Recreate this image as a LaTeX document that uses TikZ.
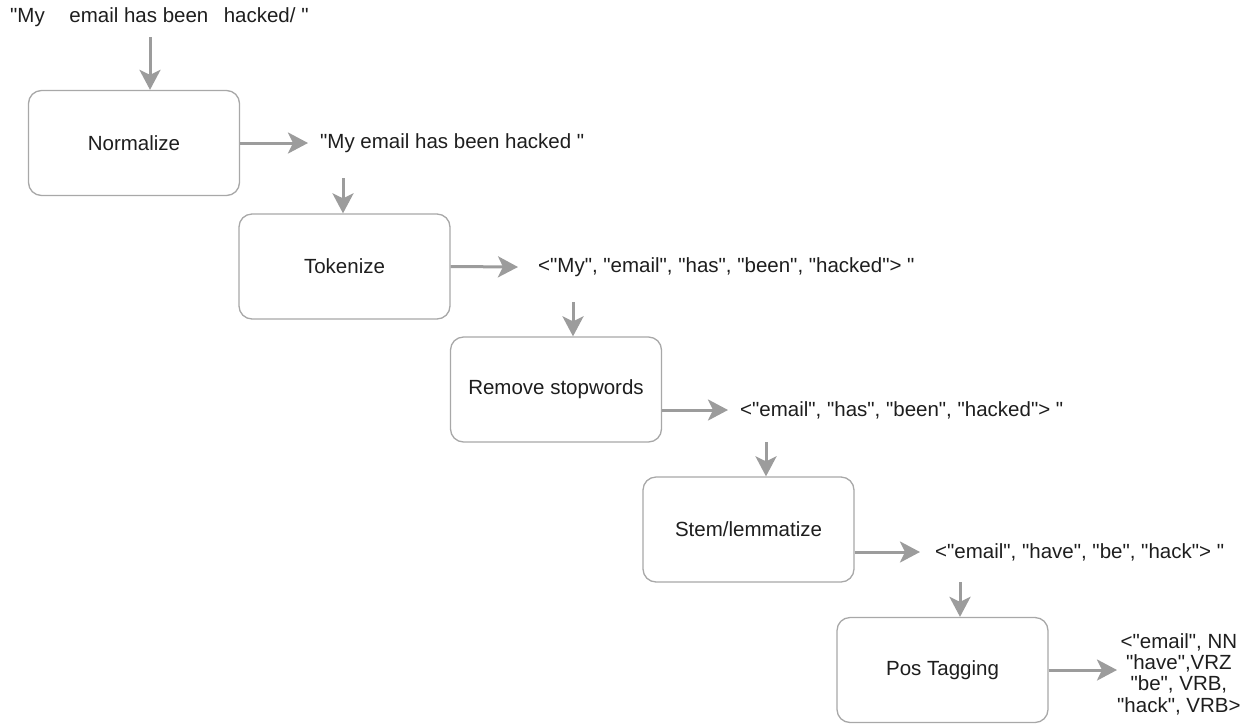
\documentclass[tikz,border=0pt]{standalone}
\usepackage{fontspec}
\setmainfont{Liberation Sans}
% a family without TeX ligature mapping, so " stays a straight quote
\newfontfamily\plainsans{Liberation Sans}
\usetikzlibrary{arrows.meta}
\definecolor{boxgray}{HTML}{A8A8A8}
\definecolor{arrgray}{HTML}{9C9C9C}
\definecolor{txt}{HTML}{1E1E1E}
\def\dqt{\char34\relax}
\begin{document}
\begin{tikzpicture}[x=1pt,y=-1pt,
  stage/.style={draw=boxgray, line width=1.3pt, rounded corners=13pt, fill=white,
    minimum width=211pt, minimum height=105pt, inner sep=0pt,
    font=\plainsans\fontsize{20.5}{24}\selectfont, text=txt},
  lbl/.style={inner sep=0pt, anchor=west, font=\plainsans\fontsize{20.5}{24}\selectfont, text=txt},
  flow/.style={draw=arrgray, line width=3pt,
    -{Stealth[length=20pt,width=21pt,inset=5pt]}}]
\useasboundingbox (0,0) rectangle (1247,724);

% pipeline stages
\node[stage] (n1) at (134,143)   {Normalize};
\node[stage] (n2) at (344.5,266.5) {Tokenize};
\node[stage] (n3) at (556,389.5) {Remove stopwords};
\node[stage] (n4) at (748.5,529.5) {Stem/lemmatize};
\node[stage] (n5) at (942.5,670) {Pos Tagging};

% intermediate results
\node[lbl] (t0) at (10,17) {\dqt My\hspace{1.2em}email has been\hspace{0.75em}hacked/ \dqt};
\node[lbl] (t1) at (320,143) {\dqt My email has been hacked \dqt};
\node[lbl] (t2) at (538,267) {<\dqt My\dqt, \dqt email\dqt, \dqt has\dqt, \dqt been\dqt, \dqt hacked\dqt> \dqt};
\node[lbl] (t3) at (740,410) {<\dqt email\dqt, \dqt has\dqt, \dqt been\dqt, \dqt hacked\dqt> \dqt};
\node[lbl] (t4) at (935,552) {<\dqt email\dqt, \dqt have\dqt, \dqt be\dqt, \dqt hack\dqt> \dqt};
\node[lbl, align=center, font=\plainsans\fontsize{20.5}{21.3}\selectfont] (t5) at (1117,674)
  {<\dqt email\dqt, NN\\\dqt have\dqt,VRZ\\\dqt be\dqt, VRB,\\\dqt hack\dqt, VRB>};

% start points of the downward arrows
\coordinate (s0) at (150,37);
\coordinate (s1) at (343,178);
\coordinate (s2) at (573,302);
\coordinate (s3) at (766,442);
\coordinate (s4) at (960,582);

% connectors
\draw[flow] (s0) -- (s0 |- n1.north);
\draw[flow] (n1.east) -- ([xshift=-12pt]t1.west);
\draw[flow] (s1) -- (s1 |- n2.north);
\draw[flow] (n2.east) -- ([xshift=-20pt]t2.west);
\draw[flow] (s2) -- (s2 |- n3.north);
\draw[flow] (n3.east |- t3.west) -- ([xshift=-12pt]t3.west);
\draw[flow] (s3) -- (s3 |- n4.north);
\draw[flow] (n4.east |- t4.west) -- ([xshift=-15pt]t4.west);
\draw[flow] (s4) -- (s4 |- n5.north);
\draw[flow] (n5.east) -- (t5.west |- n5.east);
\end{tikzpicture}
\end{document}
